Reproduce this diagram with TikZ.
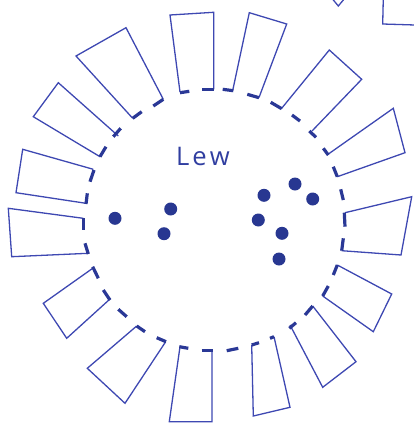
\documentclass[tikz,border=0pt]{standalone}
\usepackage{fontspec}
\setmainfont{Open Sans}
\definecolor{lineblue}{RGB}{62,72,178}
\definecolor{dashblue}{RGB}{42,56,150}
\definecolor{dotblue}{RGB}{40,55,145}
\definecolor{textblue}{RGB}{48,62,160}
\tikzset{
  toothline/.style={draw=lineblue, line width=1.3pt, line join=miter},
  rimdash/.style={draw=dashblue, line width=3.2pt},
  seed/.style={fill=dotblue},
  label/.style={text=textblue, font=\fontsize{25.6}{28}\selectfont, inner sep=0pt, anchor=base west}
}
\begin{document}
\begin{tikzpicture}[x=1pt,y=-1pt]
\useasboundingbox (0,0) rectangle (413,426);
% teeth (open quadrilaterals)
\path[toothline] (180,92)--(170,15)--(213.7,12.3)--(213.7,89.3);
\path[toothline] (232.7,90.5)--(249.3,12.7)--(286.7,24)--(259,97.5);
\path[toothline] (281.5,108.5)--(329.3,50)--(361.7,79.3)--(312,131);
\path[toothline] (327,155)--(393.3,108.3)--(405,152.7)--(337.3,176.7);
\path[toothline] (345,212.7)--(411.7,196.7)--(401,255)--(341.7,250.7);
\path[toothline] (337.3,265)--(391.7,294)--(373.3,331.7)--(322.7,296);
\path[toothline] (312.7,306)--(356,361.7)--(322.7,387.3)--(290,325);
\path[toothline] (274,336.7)--(290,407.3)--(253.3,416)--(251.7,345);
\path[toothline] (212,351)--(212,421.7)--(169.3,421.7)--(180,346.7);
\path[toothline] (165.7,341.7)--(125,403.3)--(87.3,368.3)--(136.7,326);
\path[toothline] (110,299)--(66.7,338.3)--(43.3,303.3)--(92.7,268.3);
\path[toothline] (88.3,253.3)--(11.7,256.7)--(8.3,208.3)--(83.3,218.3);
\path[toothline] (86,203.3)--(16,192.7)--(22.7,149.3)--(93.3,169.3);
\path[toothline] (100,156.7)--(33.3,116.7)--(58.3,82.7)--(118.3,136);
\path[toothline] (132.7,118.3)--(76,56)--(126,27.7)--(163.3,99.3);
% partial shapes at the top right edge
\path[toothline] (331.7,-2)--(338.3,6)--(345,-2);
\path[toothline] (383.3,-2)--(382.7,24)--(415,25);
% rim dashes
\path[rimdash] (180,92.7)--(189.3,91.3);
\path[rimdash] (202.3,89.3)--(213.7,89.3);
\path[rimdash] (222.7,89.3)--(233.3,90.7);
\path[rimdash] (247.3,94.3)--(259,97.7);
\path[rimdash] (270.7,102.3)--(281.7,108.7);
\path[rimdash] (292,115)--(300,121);
\path[rimdash] (309.3,131)--(316,137.3);
\path[rimdash] (323.3,148.3)--(328.3,155);
\path[rimdash] (333.3,166.7)--(337.3,176.7);
\path[rimdash] (340.7,189.3)--(343.3,200);
\path[rimdash] (344.3,212.7)--(345,226.7);
\path[rimdash] (343.3,238.3)--(341.7,250.7);
\path[rimdash] (337.3,265)--(333.3,275);
\path[rimdash] (328.3,286)--(322.7,296);
\path[rimdash] (312.7,306)--(305,315);
\path[rimdash] (296,322.7)--(289.3,328.3);
\path[rimdash] (270,338.3)--(274,336.7);
\path[rimdash] (251.7,345)--(259,342.7);
\path[rimdash] (238.3,348.3)--(226.7,350.7);
\path[rimdash] (201.7,350.7)--(213.3,350.7);
\path[rimdash] (179.3,346.7)--(188.3,348.3);
\path[rimdash] (156.7,337.7)--(166,341.7);
\path[rimdash] (136.7,326)--(145,331.7);
\path[rimdash] (118.3,309.3)--(126.7,316.7);
\path[rimdash] (103.3,290)--(110,300);
\path[rimdash] (92.7,266.7)--(98.3,278.3);
\path[rimdash] (85,243.3)--(88.3,254);
\path[rimdash] (83.3,218.3)--(83.3,230);
\path[rimdash] (86,204)--(87.3,193.3);
\path[rimdash] (90,181.7)--(94,170);
\path[rimdash] (100,156.7)--(106,146.7);
\path[rimdash] (113.3,136.7)--(120.7,128.3);
\path[rimdash] (132.7,118.3)--(141.7,111.7);
\path[rimdash] (153.3,106)--(163.3,99.3);
% seeds
\foreach \p in {(115,218.3),(170.7,209),(164,233.7),(264,195.3),(295,184),(312.7,199),(258.3,220),(282,233.3),(279,259)}
  \path[seed] \p circle (6.5);
% label
\node[label] (lew) at (176,165) {L\kern3pt e\kern3pt w};
\end{tikzpicture}
\end{document}
